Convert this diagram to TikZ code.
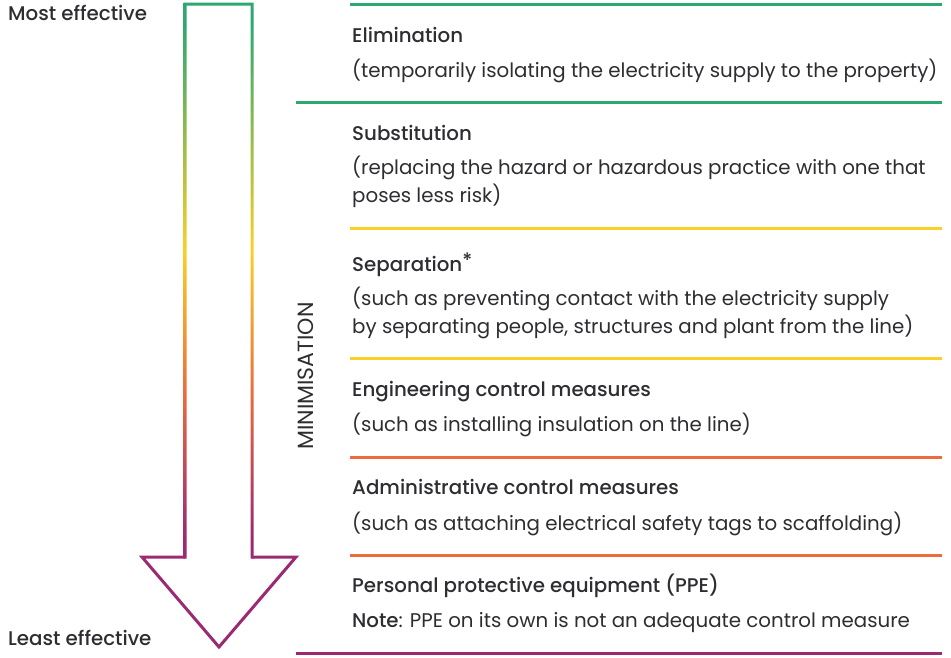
\documentclass[tikz,border=0pt]{standalone}
\usepackage{fontspec}
\setmainfont{Poppins}[BoldFont={Poppins Medium}]
\usetikzlibrary{positioning}
\definecolor{elimgreen}{RGB}{46,168,112}
\definecolor{sepyellow}{RGB}{250,208,40}
\definecolor{engorange}{RGB}{236,108,60}
\definecolor{ppepurple}{RGB}{155,42,114}
\definecolor{labelcolor}{RGB}{45,45,50}
\pgfdeclareverticalshading{effectshade}{100bp}{%
  color(0bp)=(ppepurple); color(27bp)=(ppepurple);
  color(40bp)=(engorange); color(52.7bp)=(sepyellow);
  color(73bp)=(elimgreen); color(100bp)=(elimgreen)}
\tikzset{
levelhead/.style={
  anchor=base west,
  inner sep=0pt,
  font=\bfseries\fontsize{19.8}{24}\selectfont,
  text=labelcolor
},
leveltext/.style={
  anchor=base west,
  inner sep=0pt,
  font=\fontsize{19.8}{24}\selectfont,
  text=labelcolor
},
divider/.style={
  line width=3pt
}
}
\begin{document}
\begin{tikzpicture}[x=1pt, y=-1pt]
  \useasboundingbox (0,0) rectangle (951,657);
  % arrow: shaded shaft, purple head
  \shade[shading=effectshade]
    (183.5,2.5) rectangle (186.5,558.5)
    (250.5,2.5) rectangle (253.5,558.5)
    (183.5,2.5) rectangle (253.5,5.5);
  \draw[ppepurple, line width=3pt, line join=miter]
    (185,557) -- (142,557) -- (219,647) -- (296,557) -- (252,557);
  \node[levelhead] (most) at (8,20) {Most effective};
  \node[levelhead] (least) at (8,645) {Least effective};
  \node[leveltext, font=\fontsize{22}{26}\selectfont, anchor=center, rotate=90] (minim) at (306,376) {MINIMISATION};
  % dividers
  \draw[divider, elimgreen] (350,4) -- (942,4);
  \draw[divider, elimgreen] (296,102) -- (942,102);
  \draw[divider, sepyellow] (350,228) -- (942,228);
  \draw[divider, sepyellow] (350,358) -- (942,358);
  \draw[divider, engorange] (350,457) -- (942,457);
  \draw[divider, engorange] (350,555) -- (942,555);
  \draw[divider, ppepurple] (296,653) -- (942,653);
  % levels
  \node[levelhead] (elim) at (352,42) {Elimination};
  \node[leveltext] (elimtext) at (352,77) {(temporarily isolating the electricity supply to the property)};
  \node[levelhead] (subst) at (352,140) {Substitution};
  \node[leveltext] (substtext) at (352,174) {(replacing the hazard or hazardous practice with one that};
  \node[leveltext] (substtextb) at (352,202) {poses less risk)};
  \node[levelhead] (separ) at (352,271) {Separation\raisebox{4pt}{*}};
  \node[leveltext] (separtext) at (352,305) {(such as preventing contact with the electricity supply};
  \node[leveltext] (separtextb) at (352,333) {by separating people, structures and plant from the line)};
  \node[levelhead] (engin) at (352,396) {Engineering control measures};
  \node[leveltext] (engintext) at (352,431) {(such as installing insulation on the line)};
  \node[levelhead] (admin) at (352,494) {Administrative control measures};
  \node[leveltext] (admintext) at (352,530) {(such as attaching electrical safety tags to scaffolding)};
  \node[levelhead] (ppe) at (352,592) {Personal protective equipment (PPE)};
  \node[leveltext] (ppetext) at (352,627) {\textbf{Note}: PPE on its own is not an adequate control measure};
\end{tikzpicture}
\end{document}
